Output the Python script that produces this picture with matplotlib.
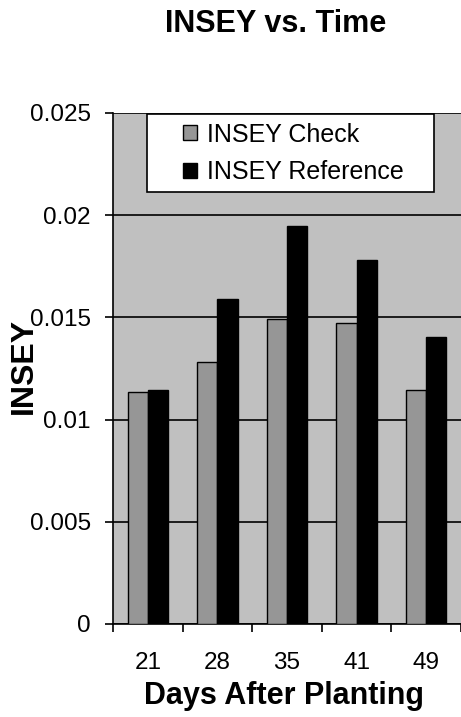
import matplotlib
matplotlib.use("Agg")
import matplotlib.pyplot as plt
from matplotlib.patches import Rectangle
from matplotlib.ticker import FixedLocator

days = ["21", "28", "35", "41", "49"]
insey_check = [0.01135, 0.0128, 0.01492, 0.01471, 0.01144]
insey_reference = [0.01147, 0.01592, 0.01946, 0.01783, 0.01406]
y_ticks = [0, 0.005, 0.01, 0.015, 0.02, 0.025]
y_tick_labels = ["0", "0.005", "0.01", "0.015", "0.02", "0.025"]

plt.rcParams["font.family"] = ["Liberation Sans", "DejaVu Sans"]

fig = plt.figure(figsize=(4.61, 7.17), dpi=100)
ax = fig.add_axes([113 / 461, 1 - 624 / 717, 348 / 461, 511 / 717])
ax.set_facecolor("#C0C0C0")

width = 0.29
pos = list(range(len(days)))
ax.bar([p - width / 2 for p in pos], insey_check, width, color="#969696",
       edgecolor="black", linewidth=1.0, label="INSEY Check", zorder=3)
ax.bar([p + width / 2 for p in pos], insey_reference, width, color="black",
       edgecolor="black", linewidth=1.0, label="INSEY Reference", zorder=3)

ax.set_xlim(-0.5, len(days) - 0.5)
ax.set_ylim(0, 0.025)
ax.set_yticks(y_ticks)
ax.set_yticklabels(y_tick_labels)
ax.set_xticks(pos)
ax.set_xticklabels(days)
ax.xaxis.set_minor_locator(FixedLocator([p - 0.5 for p in pos] + [len(days) - 0.5]))

ax.tick_params(axis="x", which="major", length=0, pad=20, labelsize=17.5)
ax.tick_params(axis="x", which="minor", length=6, width=1.2, direction="out")
ax.tick_params(axis="y", length=6, width=1.2, direction="out", pad=10, labelsize=17.5)

ax.grid(axis="y", color="black", linewidth=1.2, zorder=1)
ax.set_axisbelow(True)
for side in ("top", "right"):
    ax.spines[side].set_visible(False)
ax.spines["left"].set_linewidth(1.2)
ax.spines["bottom"].set_linewidth(1.2)

ax.set_xlabel("Days After Planting", fontsize=22, fontweight="bold")
ax.xaxis.set_label_coords(0.49, -0.1566)
ax.xaxis.label.set_va("baseline")
ax.set_ylabel("INSEY", fontsize=23, fontweight="bold")
ax.yaxis.set_label_coords(-0.212, 0.505)

# legend box drawn by hand, entries placed inside it
box = Rectangle(((147 - 113) / 348, (624 - 192) / 511), (434 - 147) / 348, (192 - 114) / 511,
                transform=ax.transAxes, facecolor="white", edgecolor="black",
                linewidth=1.2, zorder=4)
ax.add_patch(box)
leg = ax.legend(loc="upper left", bbox_to_anchor=(0.201, 0.981), frameon=False,
                fontsize=18, borderpad=0, labelspacing=0.53, handlelength=0.56,
                handleheight=0.56, handletextpad=0.4, borderaxespad=0)
leg.set_zorder(5)

fig.text(276 / 461, 1 - 32 / 717, "INSEY vs. Time", fontsize=22,
         fontweight="bold", ha="center", va="baseline")

fig.savefig("out.png", dpi=100)
